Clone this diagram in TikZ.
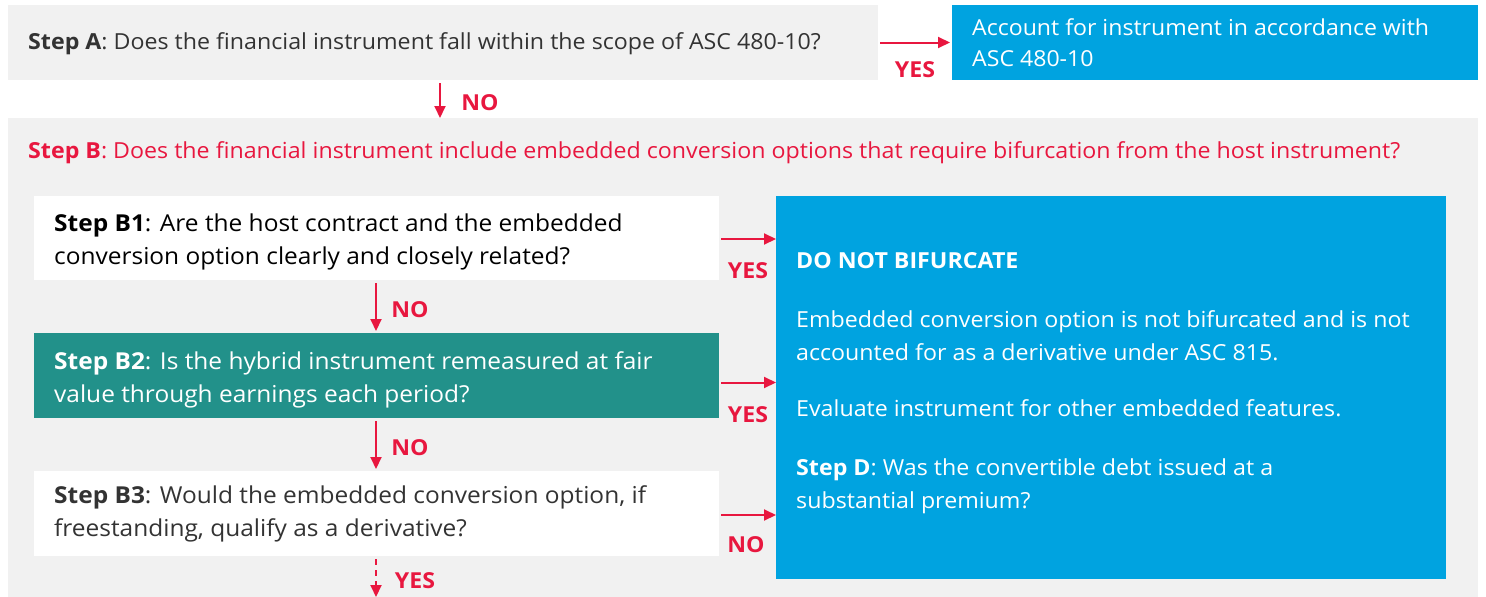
\documentclass[tikz,border=0pt]{standalone}
\usepackage{fontspec}
\setmainfont{Open Sans}[FakeStretch=1.05]
\usetikzlibrary{arrows.meta,calc}
\definecolor{bggray}{HTML}{F1F1F1}
\definecolor{cblue}{HTML}{00A3E0}
\definecolor{cteal}{HTML}{22918A}
\definecolor{cred}{HTML}{E8173F}
\definecolor{ctext}{HTML}{333333}
\tikzset{
  box/.style={rectangle, inner sep=0pt, outer sep=0pt, anchor=north west},
  txt/.style={font=\fontsize{22.1}{33}\selectfont, align=left, inner sep=0pt},
  btxt/.style={font=\fontsize{23.3}{33.5}\selectfont, align=left, inner sep=0pt, anchor=west},
  lbl/.style={font=\fontsize{22}{24}\selectfont\bfseries, text=cred, inner sep=0pt},
  arr/.style={draw=cred, line width=2pt, -{Triangle[width=11pt,length=12pt]}},
}
\begin{document}
\begin{tikzpicture}[x=1pt,y=-1pt]
\useasboundingbox (0,0) rectangle (1486,597);
% Step A row
\node[box, fill=bggray, minimum width=870pt, minimum height=75pt] (stepA) at (8,5) {};
\node[txt, anchor=west, text=ctext] (stepAt) at (28,44) {\textbf{Step A}: Does the financial instrument fall within the scope of ASC 480-10?};
\node[box, fill=cblue, minimum width=526pt, minimum height=75pt] (blueA) at (952,5) {};
\node[txt, anchor=west, text=white, font=\fontsize{22}{31}\selectfont] (blueAt) at (972,43) {Account for instrument in accordance with\\ASC 480-10};
% Step B container
\node[box, fill=bggray, minimum width=1470pt, minimum height=479pt] (stepB) at (8,118) {};
\node[txt, anchor=west, text=cred] (stepBt) at (28,153) {\textbf{Step B}: Does the financial instrument include embedded conversion options that require bifurcation from the host instrument?};
% B1, B2, B3
\node[box, fill=white, minimum width=685pt, minimum height=84pt] (B1) at (34,196) {};
\node[btxt, text=black] (B1t) at (54,242) {\textbf{Step B1}: Are the host contract and the embedded\\conversion option clearly and closely related?};
\node[box, fill=cteal, minimum width=685pt, minimum height=85pt] (B2) at (34,333) {};
\node[btxt, text=white] (B2t) at (54,380) {\textbf{Step B2}: Is the hybrid instrument remeasured at fair\\value through earnings each period?};
\node[box, fill=white, minimum width=685pt, minimum height=85pt] (B3) at (34,471) {};
\node[btxt, text=ctext] (B3t) at (54,514) {\textbf{Step B3}: Would the embedded conversion option, if\\freestanding, qualify as a derivative?};
% Big blue
\node[box, fill=cblue, minimum width=670pt, minimum height=383pt] (D) at (776,196) {};
\node[txt, anchor=north west, text=white] (Dt) at (796,252) {\textbf{DO NOT BIFURCATE}\\[26pt]Embedded conversion option is not bifurcated and is not\\accounted for as a derivative under ASC 815.\\[23pt]Evaluate instrument for other embedded features.\\[26pt]\textbf{Step D}: Was the convertible debt issued at a\\substantial premium?};
% coordinates
\coordinate (colA) at (440,0);
\coordinate (colB) at (376,0);
\coordinate (endB) at (376,597);
% arrows
\draw[arr] ($(stepA.east)+(2,0)$) -- ($(blueA.west)+(-2,0)$);
\node[lbl] (yA) at (915,70) {YES};
\draw[arr] ($(stepA.south -| colA)+(0,3)$) -- (stepB.north -| colA);
\node[lbl] (nA) at (480,103) {NO};
\draw[arr] ($(B1.east)+(2,1)$) -- ($(B1.east -| D.west)+(0,1)$);
\node[lbl] (y1) at (748,271) {YES};
\draw[arr] ($(B1.south -| colB)+(0,3)$) -- ($(B2.north -| colB)+(0,-2)$);
\node[lbl] (n1) at (410,310) {NO};
\draw[arr] ($(B2.east)+(2,7)$) -- ($(B2.east -| D.west)+(0,7)$);
\node[lbl] (y2) at (748,415) {YES};
\draw[arr] ($(B2.south -| colB)+(0,3)$) -- ($(B3.north -| colB)+(0,-2)$);
\node[lbl] (n2) at (410,448) {NO};
\draw[arr] ($(B3.east)+(2,1.5)$) -- ($(B3.east -| D.west)+(0,1.5)$);
\node[lbl] (n3) at (746,545) {NO};
\draw[arr, dash pattern=on 6pt off 5pt] ($(B3.south -| colB)+(0,3)$) -- (endB);
\node[lbl] (y3) at (415,581) {YES};
\end{tikzpicture}
\end{document}
